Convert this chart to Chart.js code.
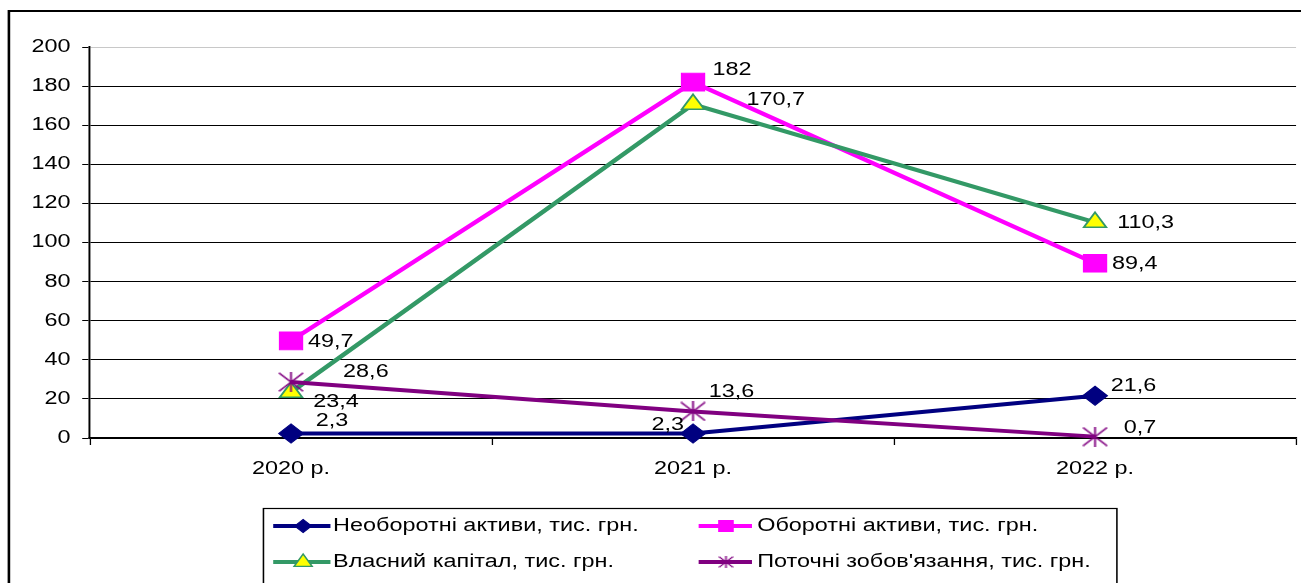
<!DOCTYPE html>
<html>
<head>
<meta charset="utf-8">
<script src="https://cdn.jsdelivr.net/npm/chart.js@4/dist/chart.umd.min.js"></script>
<style>
  html, body { margin: 0; padding: 0; background: #fff; overflow: hidden; }
  canvas { display: block; }
</style>
</head>
<body>
<canvas id="c" width="1000" height="583"></canvas>
<script>
// Categories and series values (тис. грн.)
const years = ['2020 р.', '2021 р.', '2022 р.'];
const nonCurrentAssets = [2.3, 2.3, 21.6];
const currentAssets = [49.7, 182, 89.4];
const equity = [23.4, 170.7, 110.3];
const currentLiabilities = [28.6, 13.6, 0.7];
const seriesNames = [
  'Необоротні активи, тис. грн.',
  'Оборотні активи, тис. грн.',
  'Власний капітал, тис. грн.',
  'Поточні зобов\'язання, тис. грн.'
];
// Value axis
const yMin = 0;
const yMax = 200;
const yStep = 20;

// The drawing is laid out on a 1000px-wide logical canvas and stretched horizontally.
const LOGICAL_W = 1000;
const PAGE_W = 1301;
const PAGE_H = 583;
const SX = PAGE_W / LOGICAL_W;
const FONT = '"Liberation Sans", Arial, sans-serif';

const NAVY = '#000080';
const MAGENTA = '#FF00FF';
const GREEN = '#339966';
const PURPLE = '#800080';
const YELLOW = '#FFFF00';

function asteriskMark(size, color, lw) {
  const c = document.createElement('canvas');
  c.width = size; c.height = size;
  const g = c.getContext('2d');
  g.strokeStyle = color;
  g.lineWidth = lw;
  const m = size / 2, e = lw / 2;
  g.beginPath();
  g.moveTo(m, 0); g.lineTo(m, size);
  g.moveTo(e, e); g.lineTo(size - e, size - e);
  g.moveTo(size - e, e); g.lineTo(e, size - e);
  g.stroke();
  return c;
}
const starBig = asteriskMark(20, PURPLE, 1.4);
const starSmall = asteriskMark(12, PURPLE, 1.2);

// Label placement next to each point: [dx, dy, align]
const labelPlacement = [
  [[19, -12, 'left'], [-7, -8, 'right'], [12, -10, 'left']],
  [[13, 1, 'left'], [15, -12, 'left'], [13, 1, 'left']],
  [[17, 10, 'left'], [41, -4, 'left'], [17, 1, 'left']],
  [[40, -10, 'left'], [12, -19, 'left'], [22, -9, 'left']]
];

const fmt = v => String(v).replace('.', ',');

const framePlugin = {
  id: 'frame',
  beforeDraw(chart) {
    const ctx = chart.ctx;
    ctx.save();
    ctx.strokeStyle = '#000';
    ctx.lineWidth = 2;
    ctx.beginPath();
    ctx.moveTo(6.85, PAGE_H + 10);
    ctx.lineTo(6.85, 11);
    ctx.lineTo(LOGICAL_W + 10, 11);
    ctx.stroke();
    ctx.restore();
  }
};

const valueLabels = {
  id: 'valueLabels',
  afterDatasetsDraw(chart) {
    const ctx = chart.ctx;
    ctx.save();
    ctx.font = '18px ' + FONT;
    ctx.fillStyle = '#000';
    ctx.textBaseline = 'middle';
    chart.data.datasets.forEach((ds, di) => {
      const meta = chart.getDatasetMeta(di);
      meta.data.forEach((pt, i) => {
        const [dx, dy, align] = labelPlacement[di][i];
        ctx.textAlign = align;
        ctx.fillText(fmt(ds.data[i]), pt.x + dx, pt.y + dy);
      });
    });
    ctx.restore();
  }
};

function legendMarker(ctx, style, x, y, ds) {
  ctx.save();
  ctx.fillStyle = ds.pointBackgroundColor;
  ctx.strokeStyle = ds.pointBorderColor;
  ctx.lineWidth = 1;
  if (style === 'rectRot') {
    const r = 6.5;
    ctx.beginPath();
    ctx.moveTo(x - r, y); ctx.lineTo(x, y - r); ctx.lineTo(x + r, y); ctx.lineTo(x, y + r);
    ctx.closePath(); ctx.fill(); ctx.stroke();
  } else if (style === 'rect') {
    const s = 6;
    ctx.fillRect(x - s, y - s, 2 * s, 2 * s);
  } else if (style === 'triangle') {
    const r = 8;
    ctx.lineWidth = 1.3;
    ctx.beginPath();
    ctx.moveTo(x, y - r);
    ctx.lineTo(x + r * 0.866, y + r * 0.55);
    ctx.lineTo(x - r * 0.866, y + r * 0.55);
    ctx.closePath(); ctx.fill(); ctx.stroke();
  } else {
    ctx.drawImage(starSmall, x - starSmall.width / 2, y - starSmall.height / 2);
  }
  ctx.restore();
}

const boxedLegend = {
  id: 'boxedLegend',
  afterDraw(chart) {
    const ctx = chart.ctx;
    ctx.save();
    ctx.strokeStyle = '#000';
    ctx.lineWidth = 1.2;
    ctx.strokeRect(202.5, 508.5, 656, 120);
    const cols = [{ line: [210, 254], mark: 233, text: 256 }, { line: [537, 578], mark: 558, text: 582 }];
    const rows = [526, 562];
    ctx.font = '18px ' + FONT;
    ctx.textBaseline = 'middle';
    ctx.textAlign = 'left';
    chart.data.datasets.forEach((ds, i) => {
      const c = cols[i % 2], y = rows[Math.floor(i / 2)];
      ctx.strokeStyle = ds.borderColor;
      ctx.lineWidth = 4;
      ctx.beginPath();
      ctx.moveTo(c.line[0], y); ctx.lineTo(c.line[1], y);
      ctx.stroke();
      legendMarker(ctx, ds.legendStyle, c.mark, y, ds);
      ctx.fillStyle = '#000';
      ctx.fillText(ds.label, c.text, y);
    });
    ctx.restore();
  }
};

const canvas = document.getElementById('c');
const chart = new Chart(canvas, {
  type: 'line',
  data: {
    labels: years,
    datasets: [
      {
        label: seriesNames[0], data: nonCurrentAssets, order: 4,
        borderColor: NAVY, backgroundColor: NAVY, borderWidth: 4,
        pointStyle: 'rectRot', pointRadius: 9.5, pointBorderWidth: 1,
        pointBackgroundColor: NAVY, pointBorderColor: NAVY, legendStyle: 'rectRot'
      },
      {
        label: seriesNames[1], data: currentAssets, order: 3,
        borderColor: MAGENTA, backgroundColor: MAGENTA, borderWidth: 4,
        pointStyle: 'rect', pointRadius: 12.5, pointBorderWidth: 1,
        pointBackgroundColor: MAGENTA, pointBorderColor: MAGENTA, legendStyle: 'rect'
      },
      {
        label: seriesNames[2], data: equity, order: 2,
        borderColor: GREEN, backgroundColor: GREEN, borderWidth: 4,
        pointStyle: 'triangle', pointRadius: 10, pointBorderWidth: 1.5,
        pointBackgroundColor: YELLOW, pointBorderColor: GREEN, legendStyle: 'triangle'
      },
      {
        label: seriesNames[3], data: currentLiabilities, order: 1,
        borderColor: PURPLE, backgroundColor: PURPLE, borderWidth: 4,
        pointStyle: starBig, pointRadius: 10,
        pointBackgroundColor: PURPLE, pointBorderColor: PURPLE, legendStyle: 'star'
      }
    ]
  },
  options: {
    responsive: false,
    animation: false,
    devicePixelRatio: 1,
    events: [],
    layout: { autoPadding: false, padding: { left: 0, right: 3.8, top: 47, bottom: 0 } },
    elements: { line: { tension: 0 } },
    datasets: { line: { clip: false } },
    plugins: { legend: { display: false }, tooltip: { enabled: false } },
    scales: {
      x: {
        offset: true,
        afterFit(scale) {
          scale.height = PAGE_H - 438;
          scale.paddingLeft = 0;
          scale.paddingRight = 0;
        },
        grid: { offset: true, drawOnChartArea: false, drawTicks: true, tickLength: 7, color: '#000', lineWidth: 1 },
        border: { display: true, color: '#000', width: 1.5 },
        ticks: { color: '#000', font: { family: FONT, size: 18 }, padding: 13, maxRotation: 0 }
      },
      y: {
        min: yMin, max: yMax,
        afterFit(scale) { scale.width = 69.2; },
        grid: {
          color: ctx => (ctx.tick && ctx.tick.value === yMax ? '#c8c8c8' : '#000'),
          tickColor: '#000', lineWidth: 1, tickLength: 6, drawTicks: true
        },
        border: { display: true, color: '#000', width: 1.5 },
        ticks: { stepSize: yStep, color: '#000', font: { family: FONT, size: 18 }, padding: 9 }
      }
    }
  },
  plugins: [framePlugin, valueLabels, boxedLegend]
});

// Widen the backing store and redraw with a horizontal stretch.
canvas.width = PAGE_W;
canvas.height = PAGE_H;
canvas.style.width = PAGE_W + 'px';
canvas.style.height = PAGE_H + 'px';
chart.ctx.setTransform(SX, 0, 0, 1, 0, 0);
chart.draw();
</script>
</body>
</html>
